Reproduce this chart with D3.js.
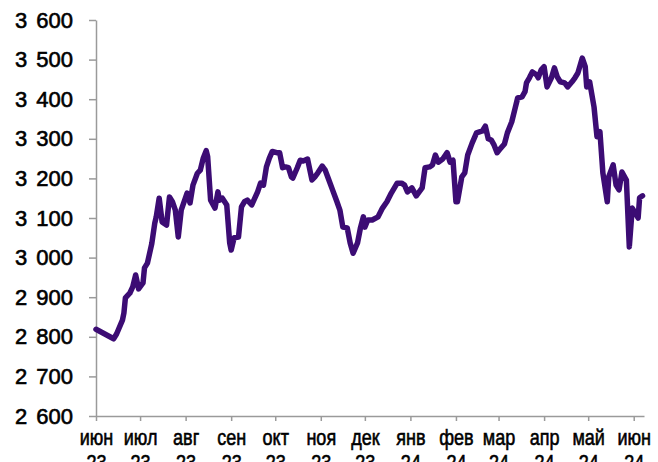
<!DOCTYPE html>
<meta charset="utf-8">
<style>
body { margin: 0; background: #fff; }
.axis path, .axis line { stroke: #9a9a9a; stroke-width: 1.5px; }
.axis text { font-family: "Liberation Sans", Arial, sans-serif; font-size: 22px; fill: #000; stroke: #000; stroke-width: 0.6px; }
.line { fill: none; stroke: #3c0c74; stroke-width: 5.5px; stroke-linejoin: round; stroke-linecap: round; }
</style>
<svg width="658" height="462"></svg>
<script src="https://d3js.org/d3.v7.min.js"></script>
<script>

const dates = [
  "2023-06-01","2023-06-13","2023-06-15","2023-06-19","2023-06-20","2023-06-21","2023-06-24","2023-06-26",
  "2023-06-28","2023-06-30","2023-07-03","2023-07-04","2023-07-06","2023-07-09","2023-07-11","2023-07-12",
  "2023-07-14","2023-07-16","2023-07-19","2023-07-21","2023-07-23","2023-07-25","2023-07-27","2023-07-29",
  "2023-08-02","2023-08-04","2023-08-06","2023-08-09","2023-08-11","2023-08-13","2023-08-15","2023-08-16",
  "2023-08-18","2023-08-21","2023-08-23","2023-08-24","2023-08-26","2023-08-29","2023-08-31","2023-09-01",
  "2023-09-03","2023-09-06","2023-09-08","2023-09-10","2023-09-12","2023-09-15","2023-09-19","2023-09-21",
  "2023-09-23","2023-09-25","2023-09-27","2023-09-29","2023-10-02","2023-10-04","2023-10-06","2023-10-08",
  "2023-10-10","2023-10-12","2023-10-13","2023-10-16","2023-10-18","2023-10-20","2023-10-23","2023-10-26",
  "2023-10-28","2023-10-30","2023-11-02","2023-11-04","2023-11-06","2023-11-09","2023-11-12","2023-11-14",
  "2023-11-16","2023-11-19","2023-11-21","2023-11-23","2023-11-26","2023-11-28","2023-11-30","2023-12-01",
  "2023-12-03","2023-12-06","2023-12-10","2023-12-13","2023-12-16","2023-12-19","2023-12-23","2023-12-26",
  "2023-12-28","2023-12-30","2024-01-02","2024-01-05","2024-01-07","2024-01-09","2024-01-11","2024-01-14",
  "2024-01-16","2024-01-18","2024-01-20","2024-01-23","2024-01-26","2024-01-28","2024-01-30","2024-02-01",
  "2024-02-02","2024-02-05","2024-02-07","2024-02-09","2024-02-12","2024-02-15","2024-02-19","2024-02-21",
  "2024-02-23","2024-02-25","2024-02-27","2024-02-29","2024-03-02","2024-03-05","2024-03-07","2024-03-10",
  "2024-03-12","2024-03-14","2024-03-17","2024-03-19","2024-03-20","2024-03-22","2024-03-24","2024-03-27",
  "2024-03-28","2024-03-30","2024-04-01","2024-04-03","2024-04-06","2024-04-08","2024-04-10","2024-04-12",
  "2024-04-15","2024-04-17","2024-04-20","2024-04-22","2024-04-24","2024-04-27","2024-04-29","2024-04-30",
  "2024-05-02","2024-05-05","2024-05-07","2024-05-09","2024-05-11","2024-05-14","2024-05-15","2024-05-18",
  "2024-05-20","2024-05-22","2024-05-24","2024-05-27","2024-05-29","2024-05-31","2024-06-02","2024-06-04",
  "2024-06-05","2024-06-07"
];

const values = [
  2819, 2795, 2807, 2842, 2860, 2898, 2910, 2926,
  2956, 2921, 2936, 2974, 2986, 3036, 3087, 3103,
  3150, 3090, 3082, 3153, 3141, 3120, 3052, 3120,
  3163, 3138, 3183, 3213, 3221, 3251, 3270, 3255,
  3145, 3125, 3166, 3145, 3150, 3133, 3037, 3019,
  3050, 3052, 3128, 3141, 3145, 3133, 3166, 3188,
  3183, 3229, 3251, 3268, 3265, 3265, 3227, 3229,
  3227, 3204, 3201, 3227, 3246, 3244, 3249, 3196,
  3204, 3214, 3231, 3221, 3201, 3171, 3141, 3120,
  3077, 3075, 3037, 3011, 3037, 3075, 3103, 3077,
  3095, 3095, 3103, 3125, 3141, 3163, 3188, 3188,
  3183, 3166, 3176, 3156, 3166, 3176, 3227, 3229,
  3234, 3259, 3241, 3249, 3265, 3241, 3246, 3141,
  3141, 3204, 3214, 3259, 3289, 3315, 3320, 3332,
  3300, 3297, 3284, 3265, 3274, 3287, 3315, 3343,
  3373, 3403, 3406, 3419, 3441, 3454, 3469, 3461,
  3454, 3474, 3482, 3431, 3454, 3479, 3456, 3444,
  3441, 3431, 3444, 3454, 3466, 3504, 3482, 3431,
  3444, 3380, 3305, 3318, 3214, 3141, 3204, 3234,
  3183, 3171, 3216, 3196, 3027, 3125, 3113, 3100,
  3151, 3156
];

const monthLabels = ["июн", "июл", "авг", "сен", "окт", "ноя", "дек", "янв", "фев", "мар", "апр", "май", "июн"];
const yearLabels = ["23", "23", "23", "23", "23", "23", "23", "24", "24", "24", "24", "24", "24"];
const yTicks = [2600, 2700, 2800, 2900, 3000, 3100, 3200, 3300, 3400, 3500, 3600];

const parseDate = d3.timeParse("%Y-%m-%d");
const data = dates.map((d, i) => ({date: parseDate(d), value: values[i]}));
const monthStarts = d3.timeMonth.range(parseDate("2023-06-01"), parseDate("2024-06-02"));

const svg = d3.select("svg"),
    margin = {top: 20, right: 14, bottom: 46, left: 96},
    width = +svg.attr("width") - margin.left - margin.right,
    height = +svg.attr("height") - margin.top - margin.bottom,
    g = svg.append("g").attr("transform", "translate(" + margin.left + "," + margin.top + ")");

const xScale = d3.scaleTime()
    .domain([parseDate("2023-06-01"), parseDate("2024-06-08")])
    .range([0, width]);

const yScale = d3.scaleLinear()
    .domain([2600, 3600])
    .range([height, 0]);

const yaxis = g.append("g")
    .attr("class", "axis axis--y")
    .call(d3.axisLeft(yScale).tickValues(yTicks).tickSize(7).tickSizeOuter(0).tickPadding(16).tickFormat(""));

// thousands separator drawn as a gap, like "3 600"
yaxis.selectAll(".tick text").each(function (d) {
  const t = d3.select(this);
  t.append("tspan").text(Math.floor(d / 1000));
  t.append("tspan").attr("dx", 9).text(d3.format("03d")(d % 1000));
});

const xaxis = g.append("g")
    .attr("class", "axis axis--x")
    .attr("transform", "translate(0," + height + ")")
    .call(d3.axisBottom(xScale).tickValues(monthStarts).tickSize(5).tickSizeOuter(0).tickFormat(""));

xaxis.selectAll(".tick").each(function (d, i) {
  const t = d3.select(this).select("text")
      .attr("y", 29)
      .attr("dy", 0)
      .attr("transform", "scale(0.82,1)");
  t.append("tspan").attr("x", 0).text(monthLabels[i]);
  t.append("tspan").attr("x", 0).attr("dy", 25).text(yearLabels[i]);
});

const line = d3.line()
    .x(d => xScale(d.date))
    .y(d => yScale(d.value));

g.append("path")
    .datum(data)
    .attr("class", "line")
    .attr("d", line);

</script>
